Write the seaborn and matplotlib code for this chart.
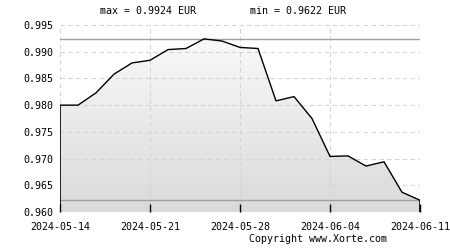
import matplotlib
matplotlib.use("Agg")
import matplotlib.pyplot as plt
import seaborn as sns
import numpy as np
import pandas as pd

dates = ["2024-05-14", "2024-05-15", "2024-05-16", "2024-05-17", "2024-05-20",
         "2024-05-21", "2024-05-22", "2024-05-23", "2024-05-24", "2024-05-27",
         "2024-05-28", "2024-05-29", "2024-05-30", "2024-05-31", "2024-06-03",
         "2024-06-04", "2024-06-05", "2024-06-06", "2024-06-07", "2024-06-10",
         "2024-06-11"]
values = [0.9800, 0.9800, 0.9823, 0.9858, 0.9879,
          0.9884, 0.9904, 0.9906, 0.9924, 0.9920,
          0.9908, 0.9906, 0.9808, 0.9816, 0.9775,
          0.9704, 0.9705, 0.9686, 0.9694, 0.9637,
          0.9622]
tick_labels = ["2024-05-14", "2024-05-21", "2024-05-28", "2024-06-04", "2024-06-11"]
max_val = 0.9924
min_val = 0.9622
currency = "EUR"

sns.set_theme(style="white")
plt.rcParams['font.family'] = ['DejaVu Sans Mono']

df = pd.DataFrame({"idx": np.arange(len(values)), "date": dates, "value": values})

fig = plt.figure(figsize=(4.5, 2.5), dpi=100)
ax = fig.add_axes([60/450, 1-212/250, 360/450, 187/250])
ax.set_axisbelow(False)

ymin, ymax = 0.960, 0.995
x = df["idx"].to_numpy()
y = df["value"].to_numpy()

# gradient fill under the curve
poly = ax.fill_between(x, ymin, y, color="none", lw=0)
grad = np.linspace(0, 1, 256).reshape(-1, 1)
img = ax.imshow(grad, extent=[x[0], x[-1], ymin, ymax], origin="lower",
                aspect="auto", cmap=matplotlib.colors.LinearSegmentedColormap.from_list(
                    "g", ["#dadada", "#fbfbfb"]), zorder=1)
img.set_clip_path(poly.get_paths()[0], transform=ax.transData)

# grid
for v in np.arange(0.960, 0.9951, 0.005):
    ax.axhline(v, color="#d4d4d4", lw=0.8, ls=(0, (4, 3)), zorder=2)
for t in range(0, len(values), 5):
    ax.axvline(t, color="#d4d4d4", lw=0.8, ls=(0, (4, 3)), zorder=2)

ax.axhline(max_val, color="#a0a0a0", lw=1.0, zorder=3)
ax.axhline(min_val, color="#a0a0a0", lw=1.0, zorder=3)

sns.lineplot(data=df, x="idx", y="value", ax=ax, color="black", lw=1.0, zorder=4)
ax.vlines([x[0], x[-1]], ymin, [y[0], y[-1]], color="black", lw=1.2, zorder=4)

ax.set_xlim(x[0], x[-1])
ax.set_ylim(ymin, ymax)
ax.set_xlabel("")
ax.set_ylabel("")
for s in ax.spines.values():
    s.set_visible(False)
ax.set_xticks(range(0, len(values), 5))
ax.set_xticklabels(tick_labels)
ax.set_yticks(np.arange(0.960, 0.9951, 0.005))
ax.set_yticklabels([f"{v:.3f}" for v in np.arange(0.960, 0.9951, 0.005)])
ax.tick_params(axis="x", direction="in", length=6, width=1, color="black",
               labelsize=7.2, pad=7.5, bottom=True)
ax.tick_params(axis="y", length=0, labelsize=7.2, pad=5)
for lbl in ax.get_xticklabels() + ax.get_yticklabels():
    lbl.set_color("black")

fig.text(148/450, 1-11/250, f"max = {max_val:.4f} {currency}", ha="center", va="center",
         fontsize=7.2, color="black")
fig.text(298/450, 1-11/250, f"min = {min_val:.4f} {currency}", ha="center", va="center",
         fontsize=7.2, color="black")
fig.text(318/450, 1-239/250, "Copyright www.Xorte.com", ha="center", va="center",
         fontsize=7.2, color="black")

fig.savefig("out.png", dpi=100, facecolor="white")
